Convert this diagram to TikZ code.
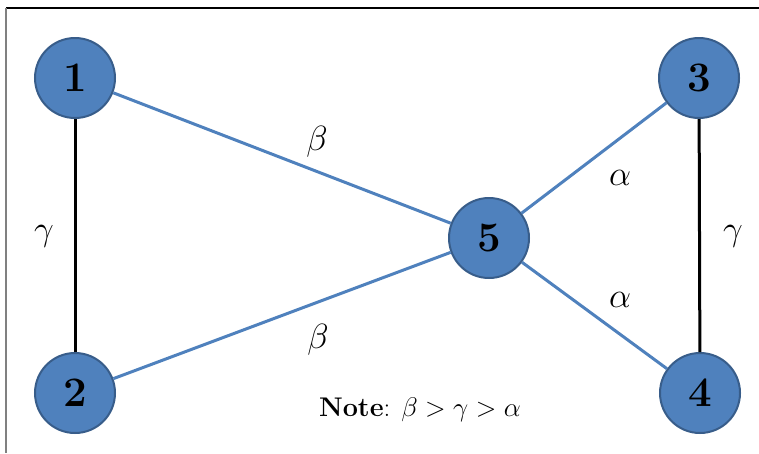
\RequirePackage{fix-cm}
\documentclass[tikz,border=0pt]{standalone}
\usepackage{tikz}
\usetikzlibrary{positioning}
\usepackage{amsmath}
\definecolor{vertex-color}{RGB}{79,129,189}
\definecolor{vertex-border}{RGB}{56,93,138}
\definecolor{edge-color}{RGB}{79,129,189}

\begin{document}
\begin{tikzpicture}[x=1pt, y=-1pt,
    vertex/.style={circle, draw=vertex-border, fill=vertex-color, line width=2pt, minimum size=80pt, inner sep=0pt, font=\fontsize{42}{44}\selectfont\bfseries},
    weight/.style={font=\fontsize{35}{38}\selectfont},
    blueedge/.style={draw=edge-color, line width=3pt},
    blackedge/.style={draw=black, line width=3pt}]
    
    % Canvas and frame
    \useasboundingbox (0,0) rectangle (759,453);
    \draw[black, line width=1.4pt] (759,8) -- (6,8);
    \draw[gray, line width=1.4pt] (6,8) -- (6,453);
    
    % Vertices
    \node[vertex] (v1) at (75,78) {1};
    \node[vertex] (v2) at (75,393) {2};
    \node[vertex] (v3) at (699,78) {3};
    \node[vertex] (v4) at (700,393) {4};
    \node[vertex] (v5) at (489,238) {5};
    
    % Edges
    \draw[blackedge] (v1) -- (v2);
    \draw[blackedge] (v3) -- (v4);
    \draw[blueedge] (v1) -- (v5);
    \draw[blueedge] (v2) -- (v5);
    \draw[blueedge] (v5) -- (v3);
    \draw[blueedge] (v5) -- (v4);
    
    % Edge weights
    \node[weight] (w12) at (44,236) {$\gamma$};
    \node[weight] (w34) at (733,236) {$\gamma$};
    \node[weight] (w15) at (317,142) {$\beta$};
    \node[weight] (w25) at (318,340) {$\beta$};
    \node[weight] (w35) at (620,178) {$\alpha$};
    \node[weight] (w45) at (620,300) {$\alpha$};
    
    % Note
    \node[font=\fontsize{27}{30}\selectfont] (note) at (420,410) {\textbf{Note}: $\beta > \gamma > \alpha$};
\end{tikzpicture}
\end{document}
